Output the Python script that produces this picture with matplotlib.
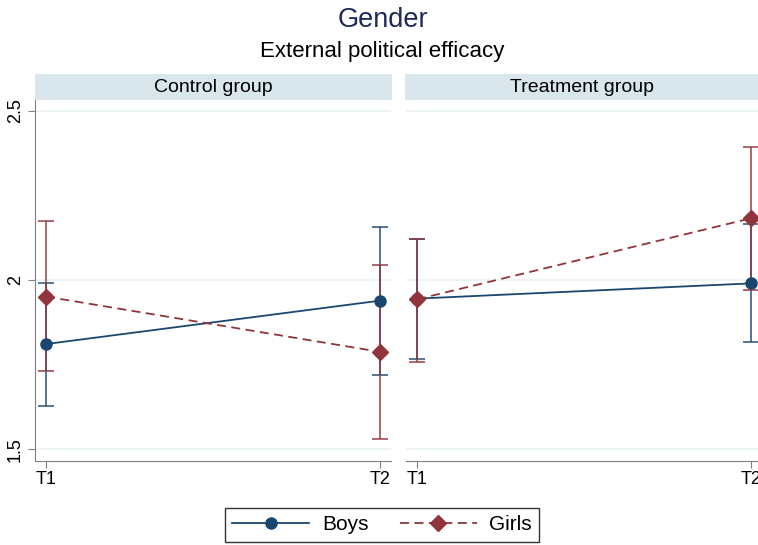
import matplotlib
matplotlib.use("Agg")
import matplotlib.pyplot as plt
from matplotlib.lines import Line2D

plt.rcParams['font.family'] = ['Liberation Sans', 'DejaVu Sans']

waves = ["T1", "T2"]
panels = ["Control group", "Treatment group"]
series = ["Boys", "Girls"]

boys_mean = {"Control group": [1.811, 1.939], "Treatment group": [1.945, 1.990]}
boys_lo = {"Control group": [1.628, 1.721], "Treatment group": [1.768, 1.816]}
boys_hi = {"Control group": [1.992, 2.155], "Treatment group": [2.120, 2.164]}
girls_mean = {"Control group": [1.951, 1.788], "Treatment group": [1.943, 2.182]}
girls_lo = {"Control group": [1.731, 1.530], "Treatment group": [1.759, 1.970]}
girls_hi = {"Control group": [2.175, 2.045], "Treatment group": [2.122, 2.393]}

yticks = [1.5, 2, 2.5]
ytick_labels = ["1.5", "2", "2.5"]

navy = "#1a476f"
maroon = "#90353b"
strip_color = "#d9e6eb"
grid_color = "#eaf2f3"
axis_gray = "#7f7f7f"

W, H = 758, 545
fig = plt.figure(figsize=(W / 100, H / 100), dpi=100)

def fx(px):
    return px / W

def fy(py):
    return 1 - py / H

top, bottom = 100, 461
panel_x = [(35, 391), (406, 762)]
strip_x = [(35, 392), (405, 758)]

fig.text(fx(383), fy(20), "Gender", ha="center", va="center", fontsize=19.5, color="#1a2a5a")
fig.text(fx(382), fy(51), "External political efficacy", ha="center", va="center", fontsize=16, color="black")

x = list(range(len(waves)))
for i, p in enumerate(panels):
    x0, x1 = panel_x[i]
    ax = fig.add_axes([fx(x0), fy(bottom), fx(x1 - x0), fy(top) - fy(bottom)])
    ax.set_xlim(-0.033, 1.033)
    ax.set_ylim(1.466, 2.531)
    for yv in yticks:
        ax.axhline(yv, color=grid_color, lw=1.2, zorder=0)
    for mean, lo, hi, col in [(boys_mean[p], boys_lo[p], boys_hi[p], navy),
                              (girls_mean[p], girls_lo[p], girls_hi[p], maroon)]:
        err = [[m - l for m, l in zip(mean, lo)], [h - m for m, h in zip(mean, hi)]]
        ax.errorbar(x, mean, yerr=err, fmt="none", ecolor=col, elinewidth=1.3,
                    capsize=6, capthick=1.3, alpha=0.8, zorder=2)
    ax.plot(x, boys_mean[p], color=navy, lw=1.3, marker="o", ms=8, zorder=3)
    ax.plot(x, girls_mean[p], color=maroon, lw=1.3, ls=(0, (5, 3)), marker="D", ms=8, zorder=3)
    ax.set_xticks(x)
    ax.set_xticklabels(waves, fontsize=13)
    for s in ["top", "right"]:
        ax.spines[s].set_visible(False)
    ax.spines["bottom"].set_color(axis_gray)
    ax.tick_params(axis="x", colors=axis_gray, labelcolor="black", length=5, pad=2)
    if i == 0:
        ax.spines["left"].set_color(axis_gray)
        ax.set_yticks(yticks)
        ax.set_yticklabels(ytick_labels, fontsize=13, rotation=90, va="center")
        ax.tick_params(axis="y", colors=axis_gray, labelcolor="black", length=5, pad=3)
    else:
        ax.spines["left"].set_visible(False)
        ax.set_yticks([])
    ax.set_facecolor("white")
    sx0, sx1 = strip_x[i]
    sax = fig.add_axes([fx(sx0), fy(100), fx(sx1 - sx0), fy(74) - fy(100)])
    sax.set_facecolor(strip_color)
    sax.set_xticks([]); sax.set_yticks([])
    for s in sax.spines.values():
        s.set_visible(False)
    sax.text(0.5, 0.5, p, ha="center", va="center", fontsize=14, transform=sax.transAxes)

handles = [Line2D([], [], color=navy, lw=1.3, marker="o", ms=8),
           Line2D([], [], color=maroon, lw=1.3, ls=(0, (5, 3)), marker="D", ms=8)]
leg = fig.legend(handles, series, loc="center", bbox_to_anchor=(fx(382), fy(525)),
                 ncol=2, frameon=True, fancybox=False, edgecolor="black", fontsize=15,
                 handlelength=3.7, columnspacing=1.5, borderpad=0.35, handletextpad=0.6)
leg.get_frame().set_linewidth(1.0)

fig.savefig("out.png", dpi=100)
